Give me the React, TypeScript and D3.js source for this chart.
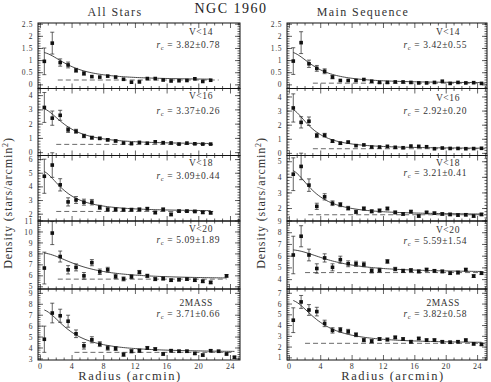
import React from "react";
import * as d3 from "d3";

// radial bins (arcmin)
const radius = [0.5, 1.5, 2.5, 3.5, 4.5, 5.5, 6.5, 7.5, 8.5, 9.5, 10.5, 11.5, 12.5,
  13.5, 14.5, 15.5, 16.5, 17.5, 18.5, 19.5, 20.5, 21.5, 22.5, 23.5, 24.5];

// ---- All Stars ----
const allV14 = [0.97, 1.72, 0.92, 0.82, 0.6, 0.47, 0.34, 0.32, 0.36, 0.32, 0.23, 0.11, 0.12, 0.26, 0.26, 0.2, 0.16, 0.17, 0.18, 0.25, 0.14, 0.19];
const allV14Err = [0.55, 0.45, 0.15, 0.12, 0.08, 0.07, 0.06, 0.05, 0.06, 0.05, 0.04, 0.04, 0.04, 0.04, 0.04, 0.04, 0.04, 0.04, 0.04, 0.04, 0.04, 0.04];
const allV16 = [3.17, 2.42, 2.62, 1.6, 1.5, 1.17, 1.05, 1.0, 0.9, 0.82, 0.68, 0.63, 0.72, 0.66, 0.76, 0.7, 0.68, 0.6, 0.67, 0.62, 0.6, 0.6];
const allV16Err = [1.05, 0.5, 0.35, 0.18, 0.14, 0.12, 0.1, 0.08, 0.08, 0.07, 0.06, 0.06, 0.06, 0.05, 0.05, 0.05, 0.05, 0.05, 0.05, 0.05, 0.05, 0.05];
const allV18 = [4.78, 5.6, 4.15, 2.9, 3.04, 2.88, 2.88, 2.5, 2.35, 2.35, 2.33, 2.33, 2.35, 2.4, 2.12, 2.35, 1.98, 2.22, 2.22, 2.2, 2.13, 2.1];
const allV18Err = [1.25, 0.9, 0.45, 0.3, 0.25, 0.22, 0.2, 0.15, 0.12, 0.12, 0.1, 0.1, 0.1, 0.1, 0.1, 0.1, 0.1, 0.09, 0.09, 0.09, 0.09, 0.09];
const allV20 = [6.71, 9.9, 7.76, 6.55, 6.77, 6.0, 7.2, 6.37, 6.56, 5.95, 5.72, 5.92, 6.33, 6.0, 5.7, 5.75, 5.6, 5.65, 5.7, 5.6, 5.5, 5.4, null, 6.0];
const allV20Err = [1.45, 1.05, 0.5, 0.38, 0.32, 0.3, 0.28, 0.25, 0.22, 0.2, 0.18, 0.17, 0.16, 0.15, 0.14, 0.13, 0.12, 0.12, 0.12, 0.12, 0.12, 0.12, 0, 0.12];
const all2mass = [4.8, 7.2, 6.95, 6.45, 5.3, 4.2, 4.75, 4.35, 4.0, 3.95, 3.4, 3.7, 3.75, 4.0, 3.9, 3.45, 3.75, 3.7, 3.7, 3.5, 3.35, 3.75, 3.7, 3.45, 3.15];
const all2massErr = [1.2, 0.9, 0.6, 0.55, 0.35, 0.3, 0.28, 0.22, 0.2, 0.18, 0.16, 0.15, 0.15, 0.14, 0.13, 0.12, 0.12, 0.11, 0.11, 0.1, 0.1, 0.1, 0.1, 0.1, 0.1];

// ---- Main Sequence ----
const msV14 = [0.98, 1.74, 0.87, 0.68, 0.56, 0.32, 0.18, 0.18, 0.18, 0.22, 0.15, 0.1, 0.1, 0.12, 0.12, 0.1, 0.08, 0.08, 0.1, 0.15, 0.06, 0.1, 0.08, 0.09, 0.06];
const msV14Err = [0.55, 0.45, 0.15, 0.12, 0.1, 0.07, 0.05, 0.04, 0.04, 0.04, 0.04, 0.03, 0.03, 0.03, 0.03, 0.03, 0.03, 0.03, 0.03, 0.03, 0.03, 0.03, 0.03, 0.03, 0.03];
const msV16 = [3.22, 2.2, 2.28, 1.27, 1.29, 0.87, 0.72, 0.8, 0.55, 0.6, 0.45, 0.45, 0.5, 0.43, 0.4, 0.52, 0.5, 0.47, 0.33, 0.38, 0.35, 0.35, 0.33, 0.34, 0.36];
const msV16Err = [1.0, 0.4, 0.3, 0.15, 0.13, 0.1, 0.08, 0.07, 0.06, 0.06, 0.05, 0.05, 0.05, 0.05, 0.05, 0.05, 0.05, 0.05, 0.04, 0.04, 0.04, 0.04, 0.04, 0.04, 0.04];
const msV18 = [4.2, 4.7, 3.5, 2.14, 2.75, 2.34, 2.25, 2.02, 1.78, 2.0, 1.82, 1.87, 2.0, 1.75, 1.65, 1.8, 1.52, 1.75, 1.7, 1.65, 1.62, 1.58, 1.6, 1.52, 1.62];
const msV18Err = [1.05, 0.85, 0.4, 0.2, 0.2, 0.15, 0.13, 0.12, 0.11, 0.1, 0.1, 0.1, 0.09, 0.09, 0.09, 0.09, 0.08, 0.08, 0.08, 0.08, 0.08, 0.08, 0.08, 0.08, 0.08];
const msV20 = [6.1, 7.7, 6.1, 4.95, 5.85, 5.05, 5.7, 5.35, 5.35, 5.3, 4.75, 4.8, 5.55, 4.9, 4.75, 4.8, 4.7, 4.85, 4.75, 4.7, 4.55, 4.6, 4.85, 4.3, 4.55];
const msV20Err = [1.6, 0.9, 0.5, 0.4, 0.35, 0.3, 0.3, 0.25, 0.22, 0.2, 0.18, 0.17, 0.16, 0.15, 0.14, 0.14, 0.13, 0.13, 0.12, 0.12, 0.12, 0.12, 0.12, 0.12, 0.12];
const ms2mass = [4.5, 6.2, 5.45, 5.3, 4.2, 3.55, 3.6, 3.45, 3.15, 2.65, 2.55, 2.75, 2.7, 2.9, 2.75, 2.5, 2.8, 2.65, 2.65, 2.5, 2.45, 2.5, 2.65, 2.3, 2.25];
const ms2massErr = [1.15, 0.6, 0.5, 0.4, 0.3, 0.25, 0.22, 0.2, 0.18, 0.16, 0.15, 0.14, 0.14, 0.13, 0.13, 0.12, 0.12, 0.12, 0.12, 0.11, 0.11, 0.11, 0.11, 0.11, 0.11];

// King profile fits
const magLabels = ["V<14", "V<16", "V<18", "V<20", "2MASS"];
const coreAll = ["3.82±0.78", "3.37±0.26", "3.09±0.44", "5.09±1.89", "3.71±0.66"];
const coreMs = ["3.42±0.55", "2.92±0.20", "3.21±0.41", "5.59±1.54", "3.82±0.58"];
const rcAll = [3.82, 3.37, 3.09, 5.09, 3.71];
const rcMs = [3.42, 2.92, 3.21, 5.59, 3.82];
const f0All = [1.15, 2.55, 3.0, 2.4, 3.95];
const f0Ms = [1.29, 2.85, 2.9, 1.95, 4.05];
const bgAll = [0.2, 0.58, 2.2, 5.7, 3.6];
const bgMs = [0.07, 0.33, 1.6, 4.6, 2.35];

// axis setup
const yDomAll = [[-0.15, 2.55], [-0.2, 4.5], [1.5, 6.3], [4.8, 11], [2.9, 9.4]];
const yDomMs = [[-0.15, 2.55], [-0.15, 4.6], [1.2, 5.4], [3.2, 9.0], [0.8, 7.4]];
const yStep = [0.5, 1, 1, 1, 1];
const xTicks = [0, 4, 8, 12, 16, 20, 24];

const rowEdges = [23, 88.5, 155.5, 221, 289, 360];
const cols = [
  { x0: 38, x1: 240, title: "All Stars", tx: 115, labelX: 8, radX: 130 },
  { x0: 287, x1: 487, title: "Main Sequence", tx: 363, labelX: 261, radX: 393 },
];
const labelY = [[31, 44], [95, 110], [162, 175], [228, 239], [302, 313]];
const labelYMs = [[31, 44], [97, 110], [162, 172], [229, 240], [302, 313]];
const curveEndAll = [21.5, 21.5, 21.5, 23.5, 24.5];
const dashAll = [[2.2, 22.5], [2, 21.8], [2, 22], [2.2, 23.5], [4.3, 24.5]];
const dashMs = [[3, 25], [3, 25], [2.4, 25], [2, 25], [2, 25]];

const FONT = "'Liberation Serif', 'DejaVu Serif', serif";

function Panel({ col, row, values, errs, yDom, rc, f0, bg, mag, core, lab, curveEnd, dash, bottom }) {
  const top = rowEdges[row];
  const bot = rowEdges[row + 1];
  const x = d3.scaleLinear().domain([-0.3, 25.2]).range([col.x0, col.x1]);
  const y = d3.scaleLinear().domain(yDom).range([bot, top]);
  const step = yStep[row];
  const eps = 1e-6;
  const major = d3.range(Math.ceil(yDom[0] / step - eps) * step, yDom[1] + eps, step);
  const mstep = step / 5;
  const minor = d3.range(Math.ceil(yDom[0] / mstep - eps) * mstep, yDom[1] + eps, mstep);
  const xMinor = d3.range(0, 26, 1).filter(v => x(v) < col.x1 - 0.5);
  const king = r => bg + f0 / (1 + (r / rc) * (r / rc));
  const line = d3.line().x(d => x(d)).y(d => y(king(d)));
  const rs = d3.range(0.5, curveEnd + 0.001, 0.25);
  const pts = values.map((v, i) => ({ r: radius[i], v, e: errs[i] })).filter(d => d.v != null);
  const fmt = t => String(+t.toFixed(1));
  return (
    <g>
      {/* x ticks top & bottom */}
      {xMinor.map(v => {
        const big = v % 4 === 0;
        const L = big ? 5 : 2.5;
        return (
          <g key={"xt" + v} stroke="#222" strokeWidth={0.7}>
            <line x1={x(v)} x2={x(v)} y1={bot} y2={bot - L} />
            <line x1={x(v)} x2={x(v)} y1={top} y2={top + L} />
          </g>
        );
      })}
      {/* y ticks */}
      {minor.map(v => (
        <g key={"ym" + v} stroke="#222" strokeWidth={0.7}>
          <line x1={col.x0} x2={col.x0 + 2.5} y1={y(v)} y2={y(v)} />
          <line x1={col.x1} x2={col.x1 - 2.5} y1={y(v)} y2={y(v)} />
        </g>
      ))}
      {major.map(v => (
        <g key={"yM" + v}>
          <line x1={col.x0} x2={col.x0 + 5} y1={y(v)} y2={y(v)} stroke="#222" strokeWidth={0.7} />
          <line x1={col.x1} x2={col.x1 - 5} y1={y(v)} y2={y(v)} stroke="#222" strokeWidth={0.7} />
          <text x={col.x0 - 5} y={y(v) + 2.6} textAnchor="end" fontSize={7.5} fill="#333"
            fontFamily={FONT} letterSpacing={0.6}>{fmt(v)}</text>
        </g>
      ))}
      {bottom && xTicks.map(v => (
        <text key={"xl" + v} x={x(v)} y={bot + 9} textAnchor="middle" fontSize={8}
          fill="#333" fontFamily={FONT} letterSpacing={0.6}>{v}</text>
      ))}
      {/* background level */}
      <line x1={x(dash[0])} x2={x(dash[1])} y1={y(bg)} y2={y(bg)} stroke="#444"
        strokeWidth={0.8} strokeDasharray="5,3" />
      {/* King profile fit */}
      <path d={line(rs)} fill="none" stroke="#333" strokeWidth={0.9} />
      {/* data with error bars */}
      {pts.map((d, i) => (
        <g key={"p" + i}>
          {d.e > 0.06 && (
            <g stroke="#222" strokeWidth={0.7}>
              <line x1={x(d.r)} x2={x(d.r)} y1={y(d.v - d.e)} y2={y(d.v + d.e)} />
              <line x1={x(d.r) - 2} x2={x(d.r) + 2} y1={y(d.v - d.e)} y2={y(d.v - d.e)} />
              <line x1={x(d.r) - 2} x2={x(d.r) + 2} y1={y(d.v + d.e)} y2={y(d.v + d.e)} />
            </g>
          )}
          <rect x={x(d.r) - 1.8} y={y(d.v) - 1.8} width={3.6} height={3.6} fill="#111" />
        </g>
      ))}
      <text x={col.x1 - 27} y={lab[0] + 3.5} textAnchor="end" fontSize={9.5} fill="#333"
        fontFamily={FONT} letterSpacing={0.6}>{mag}</text>
      <text x={col.x1 - 20} y={lab[1] + 3.5} textAnchor="end" fontSize={9.5} fill="#333"
        fontFamily={FONT} letterSpacing={0.6}>
        <tspan fontStyle="italic">r</tspan>
        <tspan fontSize={6.5} dy={2}>c</tspan>
        <tspan dy={-2}>{"  =  " + core}</tspan>
      </text>
      <rect x={col.x0} y={top} width={col.x1 - col.x0} height={bot - top} fill="none"
        stroke="#111" strokeWidth={1} />
    </g>
  );
}

export default function App() {
  const allVals = [allV14, allV16, allV18, allV20, all2mass];
  const allErrs = [allV14Err, allV16Err, allV18Err, allV20Err, all2massErr];
  const msVals = [msV14, msV16, msV18, msV20, ms2mass];
  const msErrs = [msV14Err, msV16Err, msV18Err, msV20Err, ms2massErr];
  const yLabelMid = 203;
  return (
    <svg width={491} height={382} style={{ position: "absolute", left: 0, top: 0, background: "#fff" }}>
      <rect width={491} height={382} fill="#fff" />
      <text x={231} y={13} textAnchor="middle" fontSize={14} fill="#222" fontFamily={FONT}
        letterSpacing={1.5}>NGC 1960</text>
      {cols.map((c, ci) => (
        <g key={"c" + ci}>
          <text x={c.tx} y={16} textAnchor="middle" fontSize={12} fill="#333" fontFamily={FONT}
            letterSpacing={1.4}>{c.title}</text>
          <text x={c.radX} y={380} textAnchor="middle" fontSize={12.5} fill="#333" fontFamily={FONT}
            letterSpacing={1.5}>Radius (arcmin)</text>
          <text transform={`translate(${c.labelX + 4},${yLabelMid}) rotate(-90)`} textAnchor="middle"
            fontSize={12} fill="#333" fontFamily={FONT} letterSpacing={0.9}>
            Density (stars/arcmin<tspan fontSize={8} dy={-4}>2</tspan><tspan dy={4}>)</tspan>
          </text>
          {magLabels.map((m, ri) => (
            <Panel key={"p" + ci + ri} col={c} row={ri}
              values={ci === 0 ? allVals[ri] : msVals[ri]}
              errs={ci === 0 ? allErrs[ri] : msErrs[ri]}
              yDom={ci === 0 ? yDomAll[ri] : yDomMs[ri]}
              rc={ci === 0 ? rcAll[ri] : rcMs[ri]}
              f0={ci === 0 ? f0All[ri] : f0Ms[ri]}
              bg={ci === 0 ? bgAll[ri] : bgMs[ri]}
              mag={m}
              core={ci === 0 ? coreAll[ri] : coreMs[ri]}
              lab={ci === 0 ? labelY[ri] : labelYMs[ri]}
              curveEnd={ci === 0 ? curveEndAll[ri] : 24.5}
              dash={ci === 0 ? dashAll[ri] : dashMs[ri]}
              bottom={ri === 4} />
          ))}
        </g>
      ))}
    </svg>
  );
}
